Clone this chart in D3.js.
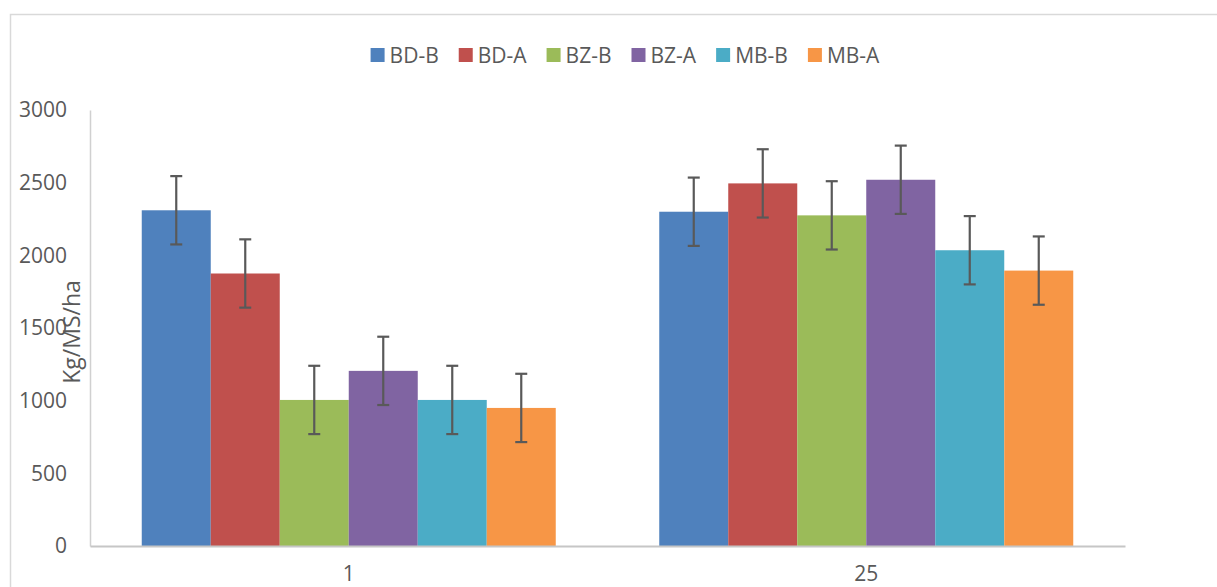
<!DOCTYPE html>
<html><head><meta charset="utf-8">
<script src="https://cdn.jsdelivr.net/npm/d3@7/dist/d3.min.js"></script>
<style>body{margin:0;background:#fff}svg{display:block}text{font-family:"Open Sans",sans-serif;fill:#595959}</style>
</head><body><svg id="c" width="1217" height="587"></svg>
<script>
const categories = ["1", "25"];
const seriesNames = ["BD-B", "BD-A", "BZ-B", "BZ-A", "MB-B", "MB-A"];
const seriesColors = ["#4F81BD", "#C0504D", "#9BBB59", "#8064A2", "#4BACC6", "#F79646"];
const valuesCat1 = [2310, 1875, 1005, 1205, 1005, 950];
const valuesCat25 = [2300, 2495, 2275, 2520, 2035, 1895];
const errorsCat1 = [235, 235, 235, 235, 235, 235];
const errorsCat25 = [235, 235, 235, 235, 235, 235];
const yTicks = [0, 500, 1000, 1500, 2000, 2500, 3000];
const yTitle = "Kg/MS/ha";

const values = [valuesCat1, valuesCat25];
const errors = [errorsCat1, errorsCat25];

const svg = d3.select("#c");
// chart border
svg.append("path").attr("d", "M10.5,587 L10.5,14.5 L1217,14.5").attr("fill", "none").attr("stroke", "#d9d9d9").attr("stroke-width", 1.5);

const L = 90, R = 1125, T = 110, B = 546;
const x0 = d3.scaleBand().domain(categories).range([L, R]).paddingInner(1.5/7.5).paddingOuter(0.75/7.5);
const x1 = d3.scaleBand().domain(seriesNames).range([0, x0.bandwidth()]);
const y = d3.scaleLinear().domain([0, 3000]).range([B, T]);

// bars
categories.forEach((c, ci) => {
  const g = svg.append("g").attr("transform", `translate(${x0(c)},0)`);
  g.selectAll("rect").data(seriesNames).join("rect")
    .attr("x", s => x1(s)).attr("width", x1.bandwidth())
    .attr("y", (s, i) => y(values[ci][i]))
    .attr("height", (s, i) => y(0) - y(values[ci][i]))
    .attr("fill", (s, i) => seriesColors[i]);
  const eb = g.selectAll("g.eb").data(seriesNames).join("g").attr("class", "eb");
  eb.append("line")
    .attr("x1", s => x1(s) + x1.bandwidth()/2).attr("x2", s => x1(s) + x1.bandwidth()/2)
    .attr("y1", (s, i) => y(values[ci][i] + errors[ci][i]))
    .attr("y2", (s, i) => y(values[ci][i] - errors[ci][i]));
  eb.append("line")
    .attr("x1", s => x1(s) + x1.bandwidth()/2 - 6).attr("x2", s => x1(s) + x1.bandwidth()/2 + 6)
    .attr("y1", (s, i) => y(values[ci][i] + errors[ci][i]))
    .attr("y2", (s, i) => y(values[ci][i] + errors[ci][i]));
  eb.append("line")
    .attr("x1", s => x1(s) + x1.bandwidth()/2 - 6).attr("x2", s => x1(s) + x1.bandwidth()/2 + 6)
    .attr("y1", (s, i) => y(values[ci][i] - errors[ci][i]))
    .attr("y2", (s, i) => y(values[ci][i] - errors[ci][i]));
  eb.selectAll("line").attr("stroke", "#595959").attr("stroke-width", 2.2);
});

// axes
const yAxis = svg.append("g").attr("transform", `translate(${L},0)`)
  .call(d3.axisLeft(y).tickValues(yTicks).tickSize(0).tickPadding(23).tickFormat(d3.format("d")));
yAxis.select(".domain").attr("stroke", "#d0d0d0").attr("stroke-width", 1.5);
yAxis.selectAll("text").attr("font-size", 21).attr("font-family", "Open Sans").attr("fill", "#595959");

const xAxis = svg.append("g").attr("transform", `translate(0,${B})`)
  .call(d3.axisBottom(x0).tickSize(0).tickPadding(20));
xAxis.select(".domain").attr("stroke", "#c6c6c6").attr("stroke-width", 2);
xAxis.selectAll("text").attr("font-size", 21).attr("font-family", "Open Sans").attr("fill", "#595959");

// y title
svg.append("text").attr("transform", `translate(80,${(T + B)/2 + 4}) rotate(-90)`)
  .attr("text-anchor", "middle").attr("font-size", 23).text(yTitle);

// legend
const leg = svg.append("g");
let cx = 0;
seriesNames.forEach((s, i) => {
  const it = leg.append("g").attr("transform", `translate(${cx},0)`);
  it.append("rect").attr("x", 0).attr("y", -7).attr("width", 14).attr("height", 14).attr("fill", seriesColors[i]);
  const t = it.append("text").attr("x", 19).attr("y", 7.5).attr("font-size", 21).text(s);
  cx += 19 + t.node().getComputedTextLength() + 20;
});
const legW = cx - 20;
leg.attr("transform", `translate(${625 - legW/2},55)`);
</script></body></html>
